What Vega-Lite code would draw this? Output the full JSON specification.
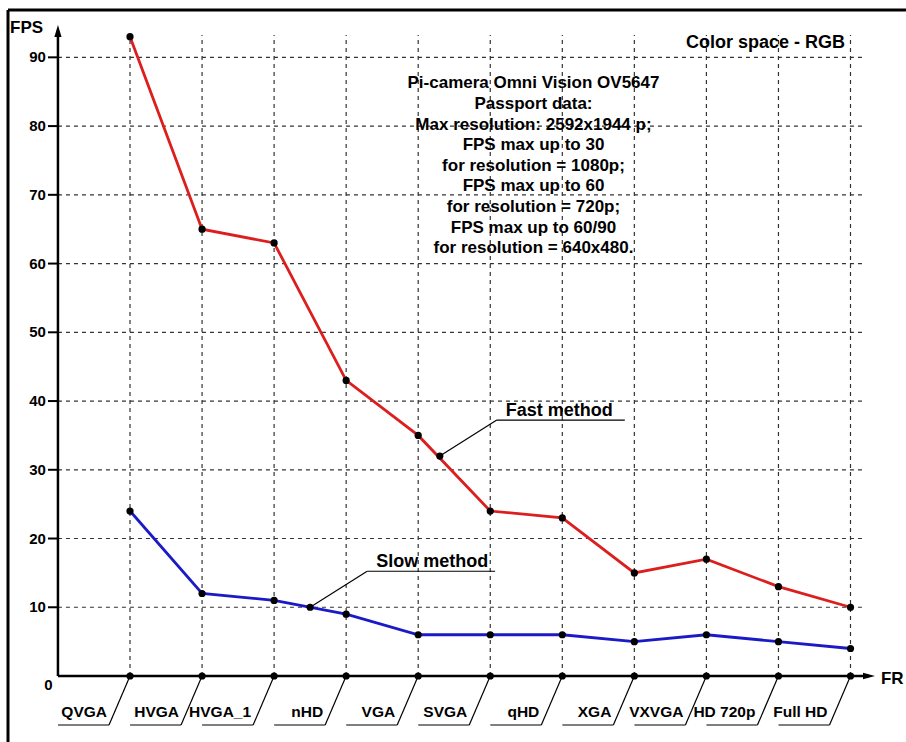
{
  "$schema": "https://vega.github.io/schema/vega-lite/v6.json",
  "autosize": {"type": "none"},
  "padding": {"left": 8, "top": 10, "right": 0, "bottom": 0},
  "width": 898,
  "height": 732,
  "background": "white",
  "config": {"view": {"stroke": null}, "font": "Liberation Sans"},
  "datasets": {
    "cams": [
      {"res": "QVGA", "idx": 0, "fast": 93, "slow": 24},
      {"res": "HVGA", "idx": 1, "fast": 65, "slow": 12},
      {"res": "HVGA_1", "idx": 2, "fast": 63, "slow": 11},
      {"res": "nHD", "idx": 3, "fast": 43, "slow": 9},
      {"res": "VGA", "idx": 4, "fast": 35, "slow": 6},
      {"res": "SVGA", "idx": 5, "fast": 24, "slow": 6},
      {"res": "qHD", "idx": 6, "fast": 23, "slow": 6},
      {"res": "XGA", "idx": 7, "fast": 15, "slow": 5},
      {"res": "VXVGA", "idx": 8, "fast": 17, "slow": 6},
      {"res": "HD 720p", "idx": 9, "fast": 13, "slow": 5},
      {"res": "Full HD", "idx": 10, "fast": 10, "slow": 4}
    ],
    "notes": [
      {"label": "Slow method", "ax": 2.5, "ay": 10},
      {"label": "Fast method", "ax": 4.3, "ay": 32}
    ],
    "yticks": [
      {"v": 10}, {"v": 20}, {"v": 30}, {"v": 40}, {"v": 50},
      {"v": 60}, {"v": 70}, {"v": 80}, {"v": 90}
    ],
    "one": [{}]
  },
  "layer": [
    {
      "data": {"name": "one"},
      "mark": {"type": "rule", "stroke": "black", "strokeWidth": 3},
      "encoding": {
        "x": {"datum": -1.6933, "type": "quantitative", "scale": {"domain": [-1.6933, 10.7703], "nice": false}, "axis": null},
        "y": {"datum": -9.6014, "type": "quantitative", "scale": {"domain": [-9.6014, 96.887], "nice": false}, "axis": null},
        "y2": {"datum": 96.887}
      }
    },
    {
      "data": {"name": "one"},
      "mark": {"type": "rule", "stroke": "black", "strokeWidth": 3},
      "encoding": {
        "x": {"datum": -1.6933, "type": "quantitative"},
        "x2": {"datum": 10.7703},
        "y": {"datum": 96.887, "type": "quantitative"}
      }
    },
    {
      "data": {"name": "yticks"},
      "mark": {"type": "rule", "stroke": "#333", "strokeWidth": 1.2, "strokeDash": [4, 4]},
      "encoding": {
        "y": {"field": "v", "type": "quantitative"},
        "x": {"datum": -1, "type": "quantitative"},
        "x2": {"datum": 10.17}
      }
    },
    {
      "data": {"name": "cams"},
      "mark": {"type": "rule", "stroke": "#333", "strokeWidth": 1.2, "strokeDash": [4, 4]},
      "encoding": {
        "x": {"field": "idx", "type": "quantitative"},
        "y": {"datum": 0, "type": "quantitative"},
        "y2": {"datum": 93.25}
      }
    },
    {
      "data": {"name": "yticks"},
      "mark": {"type": "rule", "stroke": "black", "strokeWidth": 2, "xOffset": -10},
      "encoding": {
        "y": {"field": "v", "type": "quantitative"},
        "x": {"datum": -1, "type": "quantitative"},
        "x2": {"datum": -1}
      }
    },
    {
      "data": {"name": "one"},
      "mark": {"type": "rule", "stroke": "black", "strokeWidth": 2.5},
      "encoding": {
        "x": {"datum": -1, "type": "quantitative"},
        "x2": {"datum": 10.257},
        "y": {"datum": 0, "type": "quantitative"}
      }
    },
    {
      "data": {"name": "one"},
      "mark": {"type": "rule", "stroke": "black", "strokeWidth": 2.5},
      "encoding": {
        "x": {"datum": -1, "type": "quantitative"},
        "y": {"datum": 0, "type": "quantitative"},
        "y2": {"datum": 93.83}
      }
    },
    {
      "data": {"name": "one"},
      "mark": {"type": "point", "shape": "M-0.6,1L0,-1L0.6,1Z", "size": 144, "filled": true, "color": "black", "opacity": 1},
      "encoding": {
        "x": {"datum": -1, "type": "quantitative"},
        "y": {"datum": 93.83, "type": "quantitative"}
      }
    },
    {
      "data": {"name": "one"},
      "mark": {"type": "point", "shape": "M-1,-0.55L1,0L-1,0.55Z", "size": 144, "filled": true, "color": "black", "opacity": 1},
      "encoding": {
        "x": {"datum": 10.257, "type": "quantitative"},
        "y": {"datum": 0, "type": "quantitative"}
      }
    },
    {
      "data": {"name": "cams"},
      "mark": {"type": "rule", "stroke": "black", "strokeWidth": 1.2, "xOffset": -72, "x2Offset": -21},
      "encoding": {
        "x": {"field": "idx", "type": "quantitative"},
        "x2": {"field": "idx"},
        "y": {"datum": -7.13, "type": "quantitative"}
      }
    },
    {
      "data": {"name": "cams"},
      "mark": {"type": "rule", "stroke": "black", "strokeWidth": 1.2, "xOffset": -21},
      "encoding": {
        "x": {"field": "idx", "type": "quantitative"},
        "x2": {"field": "idx"},
        "y": {"datum": -7.13, "type": "quantitative"},
        "y2": {"datum": 0}
      }
    },
    {
      "data": {"name": "cams"},
      "mark": {"type": "text", "align": "right", "baseline": "alphabetic", "dx": -23, "fontSize": 15.5, "fontWeight": "bold", "color": "black"},
      "encoding": {
        "x": {"field": "idx", "type": "quantitative"},
        "y": {"datum": -6.0, "type": "quantitative"},
        "text": {"field": "res"}
      }
    },
    {
      "data": {"name": "cams"},
      "transform": [{"fold": ["fast", "slow"], "as": ["method", "fps"]}],
      "mark": {"type": "line", "strokeWidth": 2.8},
      "encoding": {
        "x": {"field": "idx", "type": "quantitative"},
        "y": {"field": "fps", "type": "quantitative"},
        "color": {"field": "method", "type": "nominal", "scale": {"domain": ["fast", "slow"], "range": ["#dc1e1e", "#1a1ac6"]}, "legend": null}
      }
    },
    {
      "data": {"name": "cams"},
      "transform": [{"fold": ["fast", "slow"], "as": ["method", "fps"]}],
      "mark": {"type": "point", "filled": true, "color": "black", "size": 52, "opacity": 1},
      "encoding": {
        "x": {"field": "idx", "type": "quantitative"},
        "y": {"field": "fps", "type": "quantitative"}
      }
    },
    {
      "data": {"name": "cams"},
      "mark": {"type": "point", "filled": true, "color": "black", "size": 52, "opacity": 1},
      "encoding": {
        "x": {"field": "idx", "type": "quantitative"},
        "y": {"datum": 0, "type": "quantitative"}
      }
    },
    {
      "data": {"name": "notes"},
      "mark": {"type": "point", "filled": true, "color": "black", "size": 52, "opacity": 1},
      "encoding": {
        "x": {"field": "ax", "type": "quantitative"},
        "y": {"field": "ay", "type": "quantitative"}
      }
    },
    {
      "data": {"name": "notes"},
      "mark": {"type": "rule", "stroke": "black", "strokeWidth": 1.2, "x2Offset": 57, "y2Offset": -36},
      "encoding": {
        "x": {"field": "ax", "type": "quantitative"},
        "x2": {"field": "ax"},
        "y": {"field": "ay", "type": "quantitative"},
        "y2": {"field": "ay"}
      }
    },
    {
      "data": {"name": "notes"},
      "mark": {"type": "rule", "stroke": "black", "strokeWidth": 1.2, "xOffset": 57, "x2Offset": 185, "yOffset": -36},
      "encoding": {
        "x": {"field": "ax", "type": "quantitative"},
        "x2": {"field": "ax"},
        "y": {"field": "ay", "type": "quantitative"}
      }
    },
    {
      "data": {"name": "notes"},
      "mark": {"type": "text", "align": "left", "baseline": "alphabetic", "dx": 66, "dy": -40, "fontSize": 18, "fontWeight": "bold", "color": "black"},
      "encoding": {
        "x": {"field": "ax", "type": "quantitative"},
        "y": {"field": "ay", "type": "quantitative"},
        "text": {"field": "label"}
      }
    },
    {
      "data": {"name": "yticks"},
      "mark": {"type": "text", "align": "right", "baseline": "middle", "dx": -12, "fontSize": 15, "fontWeight": "bold", "color": "black"},
      "encoding": {
        "x": {"datum": -1, "type": "quantitative"},
        "y": {"field": "v", "type": "quantitative"},
        "text": {"field": "v"}
      }
    },
    {
      "data": {"name": "one"},
      "mark": {"type": "text", "align": "center", "baseline": "middle", "dx": -9.5, "dy": 9, "fontSize": 15, "fontWeight": "bold", "color": "black", "text": "0"},
      "encoding": {
        "x": {"datum": -1, "type": "quantitative"},
        "y": {"datum": 0, "type": "quantitative"}
      }
    },
    {
      "data": {"name": "one"},
      "mark": {"type": "text", "align": "left", "baseline": "alphabetic", "fontSize": 17, "fontWeight": "bold", "color": "black", "text": "FPS"},
      "encoding": {
        "x": {"datum": -1.6655, "type": "quantitative"},
        "y": {"datum": 93.54, "type": "quantitative"}
      }
    },
    {
      "data": {"name": "one"},
      "mark": {"type": "text", "align": "left", "baseline": "alphabetic", "fontSize": 17, "fontWeight": "bold", "color": "black", "text": "FR"},
      "encoding": {
        "x": {"datum": 10.423, "type": "quantitative"},
        "y": {"datum": -1.16, "type": "quantitative"}
      }
    },
    {
      "data": {"name": "one"},
      "mark": {"type": "text", "align": "right", "baseline": "alphabetic", "fontSize": 18, "fontWeight": "bold", "color": "black", "text": "Color space - RGB"},
      "encoding": {
        "x": {"datum": 9.924, "type": "quantitative"},
        "y": {"datum": 91.36, "type": "quantitative"}
      }
    },
    {
      "data": {"name": "one"},
      "mark": {
        "type": "text", "align": "center", "baseline": "alphabetic", "fontSize": 17, "fontWeight": "bold", "color": "black", "lineHeight": 20.6,
        "text": ["Pi-camera Omni Vision OV5647", "Passport data:", "Max resolution: 2592x1944 p;", "FPS max  up to 30", "for resolution = 1080p;", "FPS max  up to 60", "for resolution = 720p;", "FPS max  up to 60/90", "for resolution = 640x480."]
      },
      "encoding": {
        "x": {"datum": 5.6, "type": "quantitative"},
        "y": {"datum": 85.47, "type": "quantitative"}
      }
    }
  ]
}
